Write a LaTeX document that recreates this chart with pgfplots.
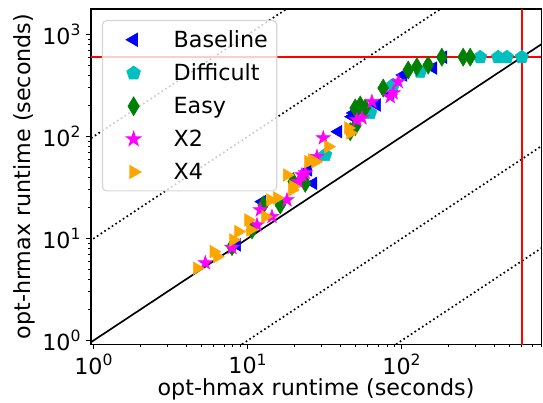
\documentclass[border=0pt]{standalone}
\usepackage{fontspec}
\setmainfont{DejaVu Sans}
\usepackage{pgfplots}
\pgfplotsset{compat=1.18}
\definecolor{mplcyan}{HTML}{00BFBF}
\definecolor{mplgreen}{HTML}{008000}
\definecolor{mplorange}{HTML}{FFA500}
\definecolor{mplmagenta}{HTML}{FF00FF}
\definecolor{mplblue}{HTML}{0000FF}
\definecolor{mplred}{HTML}{FF0000}
\definecolor{legedge}{HTML}{D6D6D6}

% filled five-point star, like matplotlib's '*'
\pgfdeclareplotmark{fstar}{%
  \pgfpathmoveto{\pgfpointpolar{90}{\pgfplotmarksize}}%
  \pgfpathlineto{\pgfpointpolar{126}{0.38\pgfplotmarksize}}%
  \pgfpathlineto{\pgfpointpolar{162}{\pgfplotmarksize}}%
  \pgfpathlineto{\pgfpointpolar{198}{0.38\pgfplotmarksize}}%
  \pgfpathlineto{\pgfpointpolar{234}{\pgfplotmarksize}}%
  \pgfpathlineto{\pgfpointpolar{270}{0.38\pgfplotmarksize}}%
  \pgfpathlineto{\pgfpointpolar{306}{\pgfplotmarksize}}%
  \pgfpathlineto{\pgfpointpolar{342}{0.38\pgfplotmarksize}}%
  \pgfpathlineto{\pgfpointpolar{18}{\pgfplotmarksize}}%
  \pgfpathlineto{\pgfpointpolar{54}{0.38\pgfplotmarksize}}%
  \pgfpathclose
  \pgfusepathqfillstroke
}

\newcommand{\sz}{\fontsize{16}{19}\selectfont}

\begin{document}
\begin{tikzpicture}
\begin{axis}[
    name=ax,
    scale only axis,
    width=324pt,
    height=241.2pt,
    xmode=log,
    ymode=log,
    xmin=0.96, xmax=800,
    ymin=0.92, ymax=1780,
    xtick={1,10,100},
    xticklabels={10\textsuperscript{0},10\textsuperscript{1},10\textsuperscript{2}},
    ytick={1,10,100,1000},
    yticklabels={10\textsuperscript{0},10\textsuperscript{1},10\textsuperscript{2},10\textsuperscript{3}},
    minor xtick={2,3,4,5,6,7,8,9,20,30,40,50,60,70,80,90,200,300,400,500,600,700,800},
    minor ytick={2,3,4,5,6,7,8,9,20,30,40,50,60,70,80,90,200,300,400,500,600,700,800,900},
    tick align=outside,
    xtick pos=left,
    ytick pos=left,
    major tick length=3.5pt,
    minor tick length=2pt,
    every major tick/.append style={line width=0.8pt, black},
    every minor tick/.append style={line width=0.6pt, black},
    axis line style={line width=0.8pt},
    ticklabel style={font=\sz},
    label style={font=\sz},
    xlabel={opt-hmax runtime (seconds)},
    ylabel={opt-hrmax runtime (seconds)},
    xlabel style={yshift=4pt},
    ylabel style={yshift=-1.5pt},
    legend cell align=left,
    legend image code/.code={%
        \path[draw=none,fill=none] (0pt,0pt) -- (32pt,0pt);
        \draw[opacity=1,#1] plot coordinates {(16pt,0pt)};},
    legend style={
        at={(0,1)}, anchor=north west, xshift=7.9pt, yshift=-7.9pt,
        draw=legedge, line width=0.8pt, rounded corners=3pt,
        fill=white, fill opacity=0.8, text opacity=1, draw opacity=1,
        font=\sz, inner xsep=6.4pt, inner ysep=5pt,
        row sep=6.4pt, column sep=12.8pt,
        nodes={inner xsep=0pt},
    },
]
\addplot[only marks, mplblue, mark=triangle*, mark size=5.2pt, mark options={rotate=90}] coordinates {
    (8.51,8.64) (12.37,22.95) (26.60,34.77) (24.69,46.95) (38.63,111.5)
    (47.39,156.4) (48.5,170) (68.85,203.7) (83.96,255.3) (101.9,400.9)
    (159.6,469.5) (185.3,600)
};
\addlegendentry{Baseline}
\addplot[only marks, mplcyan, mark=pentagon*, mark size=5pt] coordinates {
    (31.82,65.87) (62.30,170.0) (87.81,319.8) (131.5,431.9)
    (322,600) (421,600) (480,600) (600,600)
};
\addlegendentry{Difficult}
\addplot[only marks, mplgreen, mark=diamond*, mark size=6.5pt, mark options={xscale=0.8}] coordinates {
    (7.90,8.31) (10.65,12.12) (12.60,21.30) (16.25,21.30) (19.73,36.06)
    (23.60,34.77) (46.21,111.5) (49.78,124.8) (51.08,181.9) (49.78,190.3)
    (53.65,203.7) (57.81,190.3) (75.62,298.8) (109.9,448.7) (125.1,483.4)
    (148.1,502.3) (181.7,600) (249.8,600) (277.4,600)
};
\addlegendentry{Easy}
\addplot[only marks, mplmagenta, mark=fstar, mark size=5.3pt] coordinates {
    (5.30,5.75) (7.90,8.10) (11.47,13.56) (12.05,19.03) (14.35,16.36)
    (17.96,23.85) (21.27,36.06) (22.47,41.93) (23.60,43.87) (28.10,63.39)
    (30.87,96.67) (51.08,145.1) (55.03,151.8) (63.90,219.4) (83.96,245.6)
    (87.81,267.1) (94.62,344.6)
};
\addlegendentry{X2}
\addplot[only marks, mplorange, mark=triangle*, mark size=5.2pt, mark options={rotate=-90}] coordinates {
    (4.68,5.10) (6.00,7.42) (6.31,6.63) (8.05,9.67) (8.68,11.66)
    (10.07,15.18) (10.38,12.12) (12.99,16.36) (13.99,23.85) (15.47,24.96)
    (17.96,41.93) (19.35,29.89) (19.73,32.19) (24.69,56.61) (26.08,58.84)
    (27.41,56.61) (33.27,79.43) (44.85,121.2) (46.21,108.2)
};
\addlegendentry{X4}
% reference lines
\addplot[forget plot, black, line width=1.2pt] coordinates {(0.1,0.1) (10000,10000)};
\addplot[forget plot, black, line width=1.2pt, dash pattern=on 1.2pt off 2pt] coordinates {(0.01,0.1) (1000,10000)};
\addplot[forget plot, black, line width=1.2pt, dash pattern=on 1.2pt off 2pt] coordinates {(0.001,0.1) (100,10000)};
\addplot[forget plot, black, line width=1.2pt, dash pattern=on 1.2pt off 2pt] coordinates {(1,0.1) (100000,10000)};
\addplot[forget plot, black, line width=1.2pt, dash pattern=on 1.2pt off 2pt] coordinates {(10,0.1) (1000000,10000)};
\addplot[forget plot, mplred, line width=1.2pt] coordinates {(0.1,600) (10000,600)};
\addplot[forget plot, mplred, line width=1.2pt] coordinates {(600,0.1) (600,10000)};
\end{axis}
\pgfresetboundingbox
\path ([xshift=-65.5pt,yshift=-41.8pt]ax.south west) rectangle ([xshift=1.4pt,yshift=6.5pt]ax.north east);
\end{tikzpicture}
\end{document}
